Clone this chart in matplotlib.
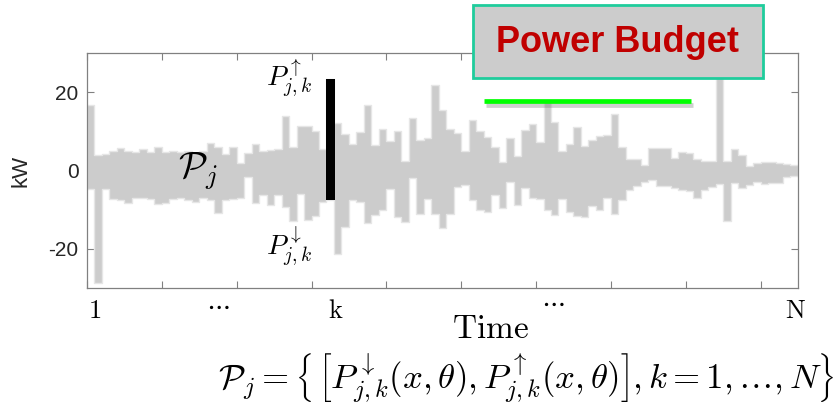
import numpy as np
import matplotlib
matplotlib.use("Agg")
import matplotlib.pyplot as plt
import matplotlib.patheffects as pe
from matplotlib import font_manager as fm
from matplotlib.patches import Rectangle
from matplotlib.transforms import blended_transform_factory

plt.rcParams["mathtext.fontset"] = "cm"
plt.rcParams["font.family"] = ["Liberation Sans", "DejaVu Sans"]

# Flexibility band per time step (kW): lower and upper bounds
p_upper = [16.8, 4.0, 4.3, 5.0, 5.8, 5.0, 4.6, 5.6, 4.6, 5.9,
           4.8, 5.0, 4.8, 5.1, 4.2, 5.1, 7.0, 6.1, 4.2, 6.0,
           2.0, 4.5, 6.8, 5.1, 5.3, 5.5, 13.9, 6.0, 11.3, 11.3,
           10.1, 5.5, 23.4, 12.0, 9.4, 6.7, 9.9, 16.7, 6.5, 10.5,
           7.6, 10.0, 2.3, 13.5, 7.7, 8.2, 21.8, 15.4, 10.6, 9.7,
           4.9, 12.8, 10.0, 8.5, 5.9, 2.1, 8.4, 3.8, 10.4, 11.9,
           7.2, 17.7, 12.3, 5.1, 6.8, 11.0, 6.2, 7.7, 8.8, 9.0,
           14.3, 5.9, 3.0, 3.0, 1.3, 5.7, 5.8, 5.8, 3.1, 4.6,
           4.5, 2.9, 2.4, 2.4, 28.0, 2.4, 5.5, 3.9, 1.2, 2.0,
           2.2, 2.2, 2.0, 1.6, 1.5]
p_lower = [-4.6, -28.8, -4.6, -7.2, -7.6, -8.3, -7.0, -7.0, -7.4, -8.6,
           -8.4, -7.2, -7.0, -7.6, -8.0, -7.0, -7.6, -10.9, -7.6, -7.2,
           -7.1, -1.6, -8.4, -6.3, -8.9, -6.3, -9.2, -13.0, -5.9, -12.7,
           -11.5, -8.0, -7.5, -21.2, -14.4, -7.6, -8.0, -13.5, -11.4, -10.1,
           -4.6, -11.8, -13.1, -2.0, -11.0, -7.2, -11.0, -14.6, -11.2, -4.2,
           -3.8, -7.5, -10.0, -10.5, -6.3, -9.5, -2.9, -8.9, -4.4, -7.1,
           -7.4, -10.1, -11.4, -7.3, -10.5, -11.7, -11.9, -9.0, -10.0, -7.0,
           -11.1, -7.5, -5.0, -4.0, -3.0, -2.5, -4.0, -4.0, -4.4, -5.0,
           -5.2, -6.9, -5.0, -4.3, -3.5, -12.8, -3.2, -4.4, -3.8, -2.9,
           -3.4, -3.3, -3.2, -1.6, -1.3]

k_index = 32                       # highlighted time step k
budget_start, budget_end, budget_value = 53.0, 80.7, 17.7

x_ticks = list(range(0, 91, 10))
y_ticks = [-20, 0, 20]
y_tick_labels = ["-20", "0", "20"]
time_labels = [(1, r"$1$", -0.128), (17.5, r"$\cdots$", -0.105),
               (33.2, r"$\mathrm{k}$", -0.128), (62.3, r"$\cdots$", -0.095),
               (94.7, r"$\mathrm{N}$", -0.128)]

fig = plt.figure(figsize=(8.39, 4.15), dpi=100)
ax = fig.add_axes([0.1037, 0.306, 0.8474, 0.5663])

n = len(p_upper)
edges = np.arange(n + 1)
up = np.append(p_upper, p_upper[-1])
lo = np.append(p_lower, p_lower[-1])
ax.fill_between(edges, lo, up, step="post", facecolor="#cccccc",
                edgecolor="#e6e6e6", linewidth=1.0, zorder=2)

# the selected step k drawn in black
ax.bar(k_index + 0.55, p_upper[k_index] - p_lower[k_index],
       bottom=p_lower[k_index], width=1.15, color="black", zorder=3)

# power budget line with a soft drop shadow
ax.plot([budget_start, budget_end], [budget_value, budget_value],
        color="#00ff00", lw=3.4, solid_capstyle="butt", zorder=4,
        path_effects=[pe.SimpleLineShadow(offset=(1.5, -2.5),
                                          shadow_color="#777777", alpha=0.35),
                      pe.Normal()])

ax.set_xlim(0, 95)
ax.set_ylim(-30, 30)
ax.set_xticks(x_ticks)
ax.set_xticklabels([])
ax.set_yticks(y_ticks)
ax.set_yticklabels(y_tick_labels)
ax.tick_params(direction="in", length=5, width=0.8, color="#808080",
               top=True, right=True, labelsize=15, labelcolor="#262626", pad=6)
for s in ax.spines.values():
    s.set_color("#808080")
    s.set_linewidth(0.9)
ax.set_ylabel("kW", fontsize=16, color="#262626", labelpad=12)

# annotations inside the axes
ax.text(14.8, -0.2, r"$\mathcal{P}_j$", fontsize=27, ha="center",
        va="center", zorder=5)
ax.text(27.0, 23.6, r"$P^{\uparrow}_{j,k}$", fontsize=20, ha="center",
        va="center", zorder=5)
ax.text(27.0, -19.4, r"$P^{\downarrow}_{j,k}$", fontsize=20, ha="center",
        va="center", zorder=5)

# time axis labels
tr = blended_transform_factory(ax.transData, ax.transAxes)
for xp, lab, yp in time_labels:
    ax.text(xp, yp, lab, transform=tr, fontsize=19, ha="center",
            va="baseline")
ax.text(53.9, -0.213, r"$\mathrm{Time}$", transform=tr, fontsize=24,
        ha="center", va="baseline")

# Power Budget box
narrow = [f.name for f in fm.fontManager.ttflist
          if f.name == "Liberation Sans Narrow"]
box_font = ["Liberation Sans Narrow"] if narrow else ["Liberation Sans"]
box_size = 31 if narrow else 26
fig.add_artist(Rectangle((473 / 839, 1 - 78 / 415), 290 / 839, 73 / 415,
                         transform=fig.transFigure, facecolor="#cccccc",
                         edgecolor="#1fcc9c", linewidth=2, zorder=10))
fig.text(618 / 839, 1 - 43 / 415, "Power Budget", family=box_font,
         fontsize=box_size, fontweight="bold", color="#c00000",
         ha="center", va="center", zorder=11)

# set definition
fig.text(526 / 839, 1 - 378 / 415,
         r"$\mathcal{P}_j = \left\{\, \left[ P^{\downarrow}_{j,k}(x,\theta),"
         r" P^{\uparrow}_{j,k}(x,\theta) \right] , k = 1, \ldots, N \right\}$",
         fontsize=25, ha="center", va="center")

fig.savefig("out.png", dpi=100)
